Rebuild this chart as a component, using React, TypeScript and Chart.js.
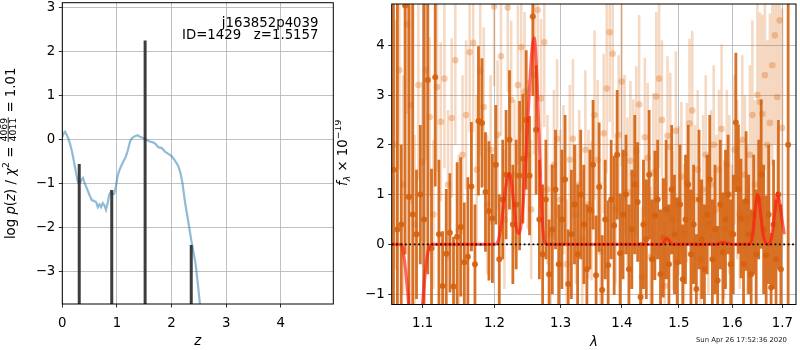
import React, { useEffect, useRef } from "react";
import { Chart, registerables } from "chart.js";

Chart.register(...registerables);

const FONT = "'DejaVu Sans', sans-serif";
const FS = 13.3;

// ---------------- left panel: log p(z) ----------------
const zGrid = [
  0.0, 0.03, 0.05, 0.08, 0.11, 0.14, 0.17, 0.2, 0.23, 0.26, 0.28, 0.3, 0.33, 0.36, 0.38, 0.4, 0.43, 0.46,
  0.5, 0.54, 0.58, 0.62, 0.65, 0.68, 0.71, 0.74, 0.77, 0.8, 0.83, 0.86, 0.89, 0.92, 0.95, 0.98, 1.01, 1.04,
  1.08, 1.12, 1.16, 1.2, 1.24, 1.28, 1.33, 1.38, 1.43, 1.48, 1.54, 1.6, 1.66, 1.7, 1.76, 1.82, 1.88, 1.94,
  2.0, 2.06, 2.12, 2.16, 2.2, 2.24, 2.28, 2.32, 2.36, 2.4, 2.44, 2.48, 2.52, 2.56,
];
const logPz = [
  0.05, 0.15, 0.17, 0.1, 0.02, -0.1, -0.24, -0.42, -0.62, -0.82, -0.95, -1.0, -0.98, -0.9, -0.88, -0.97, -1.06, -1.15,
  -1.27, -1.38, -1.4, -1.43, -1.54, -1.48, -1.54, -1.45, -1.5, -1.6, -1.45, -1.25, -1.19, -1.25, -1.24, -1.08, -0.85, -0.72,
  -0.6, -0.5, -0.4, -0.25, -0.05, 0.03, 0.07, 0.09, 0.05, 0.03, -0.01, -0.05, -0.07, -0.1, -0.18, -0.2, -0.28, -0.33,
  -0.38, -0.48, -0.6, -0.75, -1.0, -1.38, -1.68, -1.98, -2.29, -2.56, -2.83, -3.28, -3.75, -4.2,
];
const spikeZ = [0.31, 0.905, 1.5157, 2.36];
const spikeTop = [-0.56, -1.15, 2.24, -2.4];
const zTicks = [0, 1, 2, 3, 4];
const logpTicks = [-3, -2, -1, 0, 1, 2, 3];
const annotLines = ["j163852p4039", "ID=1429   z=1.5157"];

// ---------------- right panel: spectrum ----------------
const darkLam = [
  1.062, 1.067, 1.072, 1.077, 1.082, 1.087, 1.092, 1.097, 1.102, 1.107,
  1.112, 1.117, 1.122, 1.127, 1.132, 1.137, 1.142, 1.147, 1.152, 1.157,
  1.162, 1.167, 1.172, 1.177, 1.182, 1.187, 1.192, 1.197, 1.202, 1.207,
  1.212, 1.217, 1.222, 1.227, 1.232, 1.237, 1.242, 1.247, 1.252, 1.257,
  1.262, 1.267, 1.272, 1.277, 1.282, 1.287, 1.292, 1.297, 1.302, 1.307,
  1.312, 1.317, 1.322, 1.327, 1.332, 1.337, 1.342, 1.347, 1.352, 1.357,
  1.362, 1.367, 1.372, 1.377, 1.382, 1.387, 1.392, 1.397, 1.402, 1.407,
  1.412, 1.417, 1.422, 1.427, 1.432, 1.437, 1.442, 1.447, 1.452, 1.457,
  1.462, 1.467, 1.472, 1.477, 1.482, 1.487, 1.492, 1.497, 1.502, 1.507,
  1.512, 1.517, 1.522, 1.527, 1.532, 1.537, 1.542, 1.547, 1.552, 1.557,
  1.562, 1.567, 1.572, 1.577, 1.582, 1.587, 1.592, 1.597, 1.602, 1.607,
  1.612, 1.617, 1.622, 1.627, 1.632, 1.637, 1.642, 1.647, 1.652, 1.657,
  1.662, 1.667, 1.672, 1.677, 1.682, 1.687, 1.692, 1.697, 1.712,
];
const darkFlux = [
  1.5, 0.3, 0.4, 4.8, 0.95, 0.6, 0.2, 1.0, 0.5, 3.3,
  -0.08, 3.36, 0.2, -0.84, -0.19, 0.23, -0.85, 0.15, 0.35, -0.36,
  -0.25, 1.16, -0.4, 2.48, 2.44, 1.05, 0.67, 0.52, 1.6, -0.3,
  0.9, 1.4, 2.1, 0.4, 0.8, 1.38, 1.72, 2.5, 1.38, 4.58,
  2.3, 0.5, -0.2, 0.9, -0.6, 0.3, 1.1, -0.4, 0.5, 1.3,
  -0.8, 0.2, 0.8, -0.2, 1.0, 0.4, -0.5, 0.7, 1.6, -0.62,
  1.15, -0.92, 0.5, -0.42, 0.9, 0.38, 1.8, -0.18, 0.6, 1.0,
  -0.5, 0.3, 1.2, 0.85, -1.06, 0.4, 0.1, 1.4, -0.3, 0.58,
  0.9, -0.6, 0.13, 0.7, -0.4, 1.1, 0.2, -0.36, 0.8, -0.7,
  0.5, 1.2, -0.2, 0.4, -0.9, 0.9, 0.1, -0.5, 0.6, 1.3,
  -0.3, 0.3, -0.73, 0.8, -0.16, 0.5, 1.0, -0.4, 0.2, 2.45,
  1.11, 0.52, -0.4, 0.87, 0.2, -0.6, 0.6, -0.2, 0.9, 1.41,
  0.3, -0.22, 0.6, -0.87, 0.4, -0.3, 1.0, -0.5, 2.0,
];
const darkErr = [
  4.5, 5.2, 1.6, 5.0, 5.5, 4.8, 1.3, 1.4, 4.5, 3.9,
  1.6, 2.2, 1.5, 1.1, 1.3, 1.2, 1.0, 1.5, 1.4, 1.2,
  1.6, 1.3, 1.2, 1.5, 1.3, 1.2, 1.4, 1.3, 1.2, 1.3,
  1.2, 1.3, 1.4, 1.2, 1.3, 1.5, 1.3, 1.4, 1.2, 1.6,
  1.3, 1.2, 1.4, 1.2, 1.1, 1.3, 1.2, 1.2, 1.4, 1.3,
  1.1, 1.3, 1.2, 1.4, 1.3, 1.2, 1.3, 1.2, 1.3, 1.2,
  1.3, 1.1, 1.2, 1.3, 1.2, 1.4, 1.3, 1.2, 1.3, 1.2,
  1.3, 1.2, 1.4, 1.2, 1.1, 1.3, 1.2, 1.3, 1.2, 1.3,
  1.2, 1.3, 1.2, 1.4, 1.2, 1.3, 1.2, 1.3, 1.2, 1.1,
  1.3, 1.2, 1.3, 1.2, 1.1, 1.4, 1.2, 1.3, 1.2, 1.3,
  1.2, 1.3, 1.1, 1.3, 1.2, 1.4, 1.2, 1.3, 1.2, 1.4,
  1.3, 1.2, 1.3, 1.4, 1.2, 1.3, 1.2, 1.3, 1.2, 1.5,
  1.3, 1.2, 1.4, 1.1, 1.3, 1.2, 1.5, 1.3, 4.5,
];

const lightLam = [
  1.0645, 1.0695, 1.0745, 1.0795, 1.0845, 1.0895, 1.0945, 1.0995, 1.1045, 1.1095,
  1.1145, 1.1195, 1.1245, 1.1295, 1.1345, 1.1395, 1.1445, 1.1495, 1.1545, 1.1595,
  1.1645, 1.1695, 1.1745, 1.1795, 1.1845, 1.1895, 1.1945, 1.1995, 1.2045, 1.2095,
  1.2145, 1.2195, 1.2245, 1.2295, 1.2345, 1.2395, 1.2445, 1.2495, 1.2545, 1.2595,
  1.2645, 1.2695, 1.2745, 1.2795, 1.2845, 1.2895, 1.2945, 1.2995, 1.3045, 1.3095,
  1.3145, 1.3195, 1.3245, 1.3295, 1.3345, 1.3395, 1.3445, 1.3495, 1.3545, 1.3595,
  1.3645, 1.3695, 1.3745, 1.3795, 1.3845, 1.3895, 1.3945, 1.3995, 1.4045, 1.4095,
  1.4145, 1.4195, 1.4245, 1.4295, 1.4345, 1.4395, 1.4445, 1.4495, 1.4545, 1.4595,
  1.4645, 1.4695, 1.4745, 1.4795, 1.4845, 1.4895, 1.4945, 1.4995, 1.5045, 1.5095,
  1.5145, 1.5195, 1.5245, 1.5295, 1.5345, 1.5395, 1.5445, 1.5495, 1.5545, 1.5595,
  1.5645, 1.5695, 1.5745, 1.5795, 1.5845, 1.5895, 1.5945, 1.5995, 1.6045, 1.6095,
  1.6145, 1.6195, 1.6245, 1.6295, 1.6345, 1.6395, 1.6445, 1.6495, 1.6545, 1.6595,
  1.6645, 1.6695, 1.6745, 1.6795, 1.6845, 1.6895, 1.6945, 1.6995,
];
const lightFlux = [
  2.0, 3.5, 1.2, 4.42, 2.8, 0.4, 3.2, 1.66, 3.5, 2.56,
  0.6, 3.16, 2.46, 3.33, 1.2, 2.54, 3.7, 0.3, 1.8, 2.6,
  3.86, 4.05, 1.5, 3.49, 2.76, 0.8, 1.9, 4.78, 2.2, 3.78,
  0.5, 4.76, 2.9, 1.4, 3.2, 3.96, 3.07, 1.8, 0.7, 3.4,
  4.71, 2.93, 4.06, 1.1, 0.2, 1.6, 2.12, 0.9, 1.3, -0.4,
  1.7, 2.12, 0.6, 1.2, 0.1, 1.9, 0.8, 0.67, 2.6, 1.7,
  -0.15, 2.23, 3.13, 4.26, 3.83, 0.71, 2.2, 3.27, 1.81, 1.05,
  1.68, 1.41, 1.88, 2.81, -0.66, 2.15, 1.74, -0.25, 1.44, 2.97,
  3.33, 2.5, -0.84, 2.18, 1.95, 0.48, 2.28, 0.88, 1.36, 0.21,
  1.24, 2.43, 2.69, 0.9, 1.5, -0.3, 1.1, 1.8, 0.4, 1.2,
  2.0, 0.7, 1.5, 2.32, 0.3, 1.6, 1.0, 0.2, 1.9, 1.3,
  0.6, 2.1, 1.4, 0.5, 1.8, 2.6, 1.2, 3.0, 2.86, 2.62,
  3.4, 2.0, 2.44, 3.6, 4.2, 2.96, 4.5, 2.34,
];
const lightErr = [
  2.5, 2.0, 2.2, 1.8, 2.0, 1.8, 1.9, 1.6, 1.8, 1.6,
  1.5, 1.7, 1.6, 1.8, 1.5, 1.6, 1.7, 1.5, 1.6, 1.5,
  1.6, 1.8, 1.5, 1.7, 1.6, 1.4, 1.5, 1.6, 1.5, 1.6,
  1.4, 1.7, 1.6, 1.5, 1.6, 1.7, 1.6, 1.5, 1.4, 1.6,
  1.8, 1.6, 1.7, 1.5, 1.4, 1.5, 1.6, 1.4, 1.5, 1.3,
  1.5, 1.6, 1.4, 1.5, 1.4, 1.6, 1.5, 1.4, 1.7, 1.6,
  1.4, 1.6, 1.7, 1.8, 1.7, 1.5, 1.6, 1.7, 1.6, 1.5,
  1.6, 1.5, 1.7, 1.8, 1.4, 1.6, 1.5, 1.4, 1.6, 1.7,
  1.8, 1.6, 1.3, 1.6, 1.5, 1.4, 1.6, 1.5, 1.5, 1.4,
  1.6, 1.7, 1.6, 1.5, 1.6, 1.4, 1.5, 1.6, 1.4, 1.5,
  1.6, 1.5, 1.6, 1.7, 1.4, 1.5, 1.6, 1.4, 1.5, 1.6,
  1.5, 1.7, 1.6, 1.5, 1.8, 1.9, 1.7, 1.9, 1.8, 2.0,
  1.9, 2.1, 2.2, 2.0, 2.2, 2.3, 2.0, 2.4,
];

const modelLam = [
  1.06, 1.072, 1.076, 1.08, 1.084, 1.09, 1.096, 1.1, 1.104, 1.108, 1.112,
  1.2, 1.205, 1.21, 1.216, 1.222, 1.227, 1.232, 1.236, 1.241, 1.246, 1.251, 1.256, 1.259, 1.263, 1.267, 1.271, 1.275, 1.28,
  1.47, 1.475, 1.479, 1.483, 1.487, 1.57, 1.58, 1.59, 1.6,
  1.635, 1.64, 1.645, 1.65, 1.655, 1.66, 1.665, 1.672, 1.678, 1.684, 1.69, 1.695, 1.7, 1.704,
];
const modelFlux = [
  0, 0, -0.3, -0.9, -1.6, -2.3, -1.8, -1.2, -0.5, -0.1, 0,
  0, 0.05, 0.4, 1.1, 1.42, 1.0, 0.35, 0.22, 0.6, 1.6, 2.9, 3.95, 4.15, 3.4, 2.0, 0.6, 0.05, 0,
  0, 0.08, 0.12, 0.06, 0, 0, 0.04, 0.02, 0,
  0, 0.2, 0.7, 1.0, 0.7, 0.25, 0.05, 0, 0.15, 0.6, 1.03, 0.8, 0.45, 0.2,
];
const lamTicks = [1.1, 1.2, 1.3, 1.4, 1.5, 1.6, 1.7];
const fluxTicks = [-1, 0, 1, 2, 3, 4];
const timestamp = "Sun Apr 26 17:52:36 2020";

// ---------------- helpers ----------------
type Seg = { t?: string; italic?: boolean; scale?: number; rise?: number; frac?: [string, string] };

const leftTitle: Seg[] = [
  { t: "log " },
  { t: "p", italic: true },
  { t: "(" },
  { t: "z", italic: true },
  { t: ") / " },
  { t: "χ", italic: true },
  { t: "2", scale: 0.7, rise: 0.45 },
  { t: " = " },
  { frac: ["4069", "4011"], scale: 0.7 },
  { t: " = 1.01" },
];
const rightTitle: Seg[] = [
  { t: "f", italic: true },
  { t: "λ", italic: true, scale: 0.7, rise: -0.2 },
  { t: " × 10" },
  { t: "\u221219", scale: 0.7, rise: 0.45 },
];

function drawRich(ctx: CanvasRenderingContext2D, segs: Seg[], bx: number, cy: number, angle: number, size: number) {
  ctx.save();
  ctx.translate(bx, cy);
  ctx.rotate(angle);
  ctx.fillStyle = "#000";
  ctx.strokeStyle = "#000";
  ctx.textBaseline = "alphabetic";
  ctx.textAlign = "left";
  const fontOf = (s: Seg) => `${s.italic ? "italic " : ""}${(size * (s.scale ?? 1)).toFixed(2)}px ${FONT}`;
  const widths = segs.map((s) => {
    ctx.font = fontOf(s);
    if (s.frac) return Math.max(ctx.measureText(s.frac[0]).width, ctx.measureText(s.frac[1]).width) + 2;
    return ctx.measureText(s.t ?? "").width;
  });
  const total = widths.reduce((a, b) => a + b, 0);
  let x = -total / 2;
  segs.forEach((s, i) => {
    ctx.font = fontOf(s);
    const w = widths[i];
    if (s.frac) {
      const [n, d] = s.frac;
      const wn = ctx.measureText(n).width;
      const wd = ctx.measureText(d).width;
      ctx.fillText(n, x + (w - wn) / 2, -size * 0.62);
      ctx.fillText(d, x + (w - wd) / 2, size * 0.02);
      ctx.lineWidth = 0.8;
      ctx.beginPath();
      ctx.moveTo(x + 0.5, -size * 0.53);
      ctx.lineTo(x + w - 0.5, -size * 0.53);
      ctx.stroke();
    } else {
      ctx.fillText(s.t ?? "", x, -(s.rise ?? 0) * size);
    }
    x += w;
  });
  ctx.restore();
}

const fmtInt = (v: number) => String(Math.round(v)).replace("-", "\u2212");

function errSegments(lam: number[], f: number[], e: number[]) {
  const out: { x: number; y: number | null }[] = [];
  for (let i = 0; i < lam.length; i++) {
    out.push({ x: lam[i], y: f[i] - e[i] }, { x: lam[i], y: f[i] + e[i] }, { x: lam[i], y: null });
  }
  return out;
}
const pts = (xs: number[], ys: number[]) => xs.map((x, i) => ({ x, y: ys[i] }));

const framePlugin = {
  id: "frame",
  afterDatasetsDraw(chart: any) {
    const { ctx, chartArea: a } = chart;
    ctx.save();
    ctx.strokeStyle = "#000";
    ctx.lineWidth = 1;
    ctx.strokeRect(a.left, a.top, a.right - a.left, a.bottom - a.top);
    ctx.restore();
  },
};

const gridOpts = { color: "#b0b0b0", lineWidth: 0.8, tickLength: 3.5, tickColor: "#000", tickWidth: 0.8 };
const tickFont = { family: FONT, size: FS };

function xScale(extra: any, height: number) {
  return {
    ...extra,
    grid: gridOpts,
    border: { display: false },
    afterFit: (s: any) => {
      s.height = height;
      s.paddingLeft = 0;
      s.paddingRight = 0;
    },
    ticks: { font: tickFont, color: "#000", padding: 8, maxRotation: 0, autoSkip: false, ...(extra.ticks || {}) },
  };
}
function yScale(extra: any, width: number) {
  return {
    ...extra,
    grid: gridOpts,
    border: { display: false },
    afterFit: (s: any) => {
      s.width = width;
      s.paddingTop = 0;
      s.paddingBottom = 0;
    },
    ticks: { font: tickFont, color: "#000", padding: 3.5, autoSkip: false, ...(extra.ticks || {}) },
  };
}

export default function App() {
  const refA = useRef<HTMLCanvasElement>(null);
  const refB = useRef<HTMLCanvasElement>(null);

  useEffect(() => {
    const spikeData: { x: number; y: number | null }[] = [];
    spikeZ.forEach((z, i) => spikeData.push({ x: z, y: -5 }, { x: z, y: spikeTop[i] }, { x: z, y: null }));

    const textA = {
      id: "textA",
      afterDraw(chart: any) {
        const ctx = chart.ctx as CanvasRenderingContext2D;
        const a = chart.chartArea;
        drawRich(ctx, leftTitle, 15.3, (a.top + a.bottom) / 2, -Math.PI / 2, FS);
        ctx.save();
        ctx.fillStyle = "#000";
        ctx.textBaseline = "alphabetic";
        ctx.font = `italic ${FS}px ${FONT}`;
        ctx.textAlign = "center";
        ctx.fillText("z", (a.left + a.right) / 2, 345);
        ctx.font = `${FS}px ${FONT}`;
        ctx.textAlign = "right";
        ctx.fillText(annotLines[0], 318.5, 26.5);
        ctx.fillText(annotLines[1], 318.5, 39.3);
        ctx.restore();
      },
    };

    const chartA = new Chart(refA.current!, {
      type: "line",
      data: {
        datasets: [
          {
            data: spikeData as any,
            borderColor: "rgba(40,40,40,0.9)",
            borderWidth: 3,
            borderCapStyle: "butt",
            pointRadius: 0,
            spanGaps: false,
            clip: 0 as any,
          },
          {
            data: pts(zGrid, logPz) as any,
            borderColor: "rgba(31,119,180,0.5)",
            borderWidth: 2.2,
            pointRadius: 0,
            tension: 0,
            clip: 0 as any,
          },
        ],
      },
      options: {
        responsive: false,
        animation: false,
        devicePixelRatio: 1,
        layout: { padding: { left: 0, top: 2.7, right: 1.7, bottom: 0 } },
        plugins: { legend: { display: false }, tooltip: { enabled: false } },
        scales: {
          x: xScale(
            {
              type: "linear",
              min: 0,
              max: 4.96,
              afterBuildTicks: (s: any) => {
                s.ticks = zTicks.map((v) => ({ value: v }));
              },
              ticks: { callback: (v: any) => fmtInt(Number(v)) },
            },
            46
          ),
          y: yScale(
            {
              type: "linear",
              min: -3.74,
              max: 3.1,
              afterBuildTicks: (s: any) => {
                s.ticks = logpTicks.map((v) => ({ value: v }));
              },
              ticks: { callback: (v: any) => fmtInt(Number(v)) },
            },
            62.3
          ),
        },
      } as any,
      plugins: [framePlugin, textA],
    });

    const textB = {
      id: "textB",
      afterDraw(chart: any) {
        const ctx = chart.ctx as CanvasRenderingContext2D;
        const a = chart.chartArea;
        drawRich(ctx, rightTitle, 12.3, (a.top + a.bottom) / 2 - 1.5, -Math.PI / 2, FS);
        ctx.save();
        ctx.fillStyle = "#000";
        ctx.textBaseline = "alphabetic";
        ctx.font = `italic ${FS}px ${FONT}`;
        ctx.textAlign = "center";
        ctx.fillText("λ", (a.left + a.right) / 2, 346);
        ctx.font = `6.9px ${FONT}`;
        ctx.textAlign = "right";
        ctx.fillStyle = "#222";
        ctx.fillText(timestamp, 452, 341.8);
        ctx.restore();
      },
    };

    const dark = "rgba(212,98,14,0.9)";
    const light = "rgba(217,95,2,0.24)";
    const lightPt = "rgba(217,95,2,0.3)";

    const chartB = new Chart(refB.current!, {
      type: "line",
      data: {
        datasets: [
          {
            data: [
              { x: 1.0597, y: 0 },
              { x: 1.7283, y: 0 },
            ],
            borderColor: "#000",
            borderWidth: 1.8,
            borderDash: [1.8, 2.6],
            pointRadius: 0,
            clip: 0 as any,
          },
          {
            data: pts(modelLam, modelFlux) as any,
            borderColor: "rgba(255,25,15,0.65)",
            borderWidth: 3.2,
            pointRadius: 0,
            cubicInterpolationMode: "monotone",
            clip: 0 as any,
          },
          {
            data: pts(darkLam, darkFlux) as any,
            showLine: false,
            pointRadius: 3,
            pointBorderWidth: 0,
            pointBackgroundColor: dark,
            clip: 0 as any,
          },
          {
            data: errSegments(darkLam, darkFlux, darkErr) as any,
            borderColor: dark,
            borderWidth: 2.8,
            borderCapStyle: "butt",
            pointRadius: 0,
            spanGaps: false,
            clip: 0 as any,
          },
          {
            data: pts(lightLam, lightFlux) as any,
            showLine: false,
            pointRadius: 3.3,
            pointBorderWidth: 0,
            pointBackgroundColor: lightPt,
            clip: 0 as any,
          },
          {
            data: errSegments(lightLam, lightFlux, lightErr) as any,
            borderColor: light,
            borderWidth: 2.6,
            borderCapStyle: "butt",
            pointRadius: 0,
            spanGaps: false,
            segment: {},
            clip: 0 as any,
          },
        ],
      },
      options: {
        responsive: false,
        animation: false,
        devicePixelRatio: 1,
        layout: { padding: { left: 0, top: 2.5, right: 2, bottom: 0 } },
        plugins: { legend: { display: false }, tooltip: { enabled: false } },
        scales: {
          x: xScale(
            {
              type: "logarithmic",
              min: 1.0597,
              max: 1.7283,
              afterBuildTicks: (s: any) => {
                s.ticks = lamTicks.map((v) => ({ value: v }));
              },
              ticks: { callback: (v: any) => Number(v).toFixed(1) },
            },
            45.5
          ),
          y: yScale(
            {
              type: "linear",
              min: -1.21,
              max: 4.83,
              afterBuildTicks: (s: any) => {
                s.ticks = fluxTicks.map((v) => ({ value: v }));
              },
              ticks: { callback: (v: any) => fmtInt(Number(v)) },
            },
            56.7
          ),
        },
      } as any,
      plugins: [framePlugin, textB],
    });

    return () => {
      chartA.destroy();
      chartB.destroy();
    };
  }, []);

  return (
    <div style={{ position: "fixed", left: 0, top: 0, width: 800, height: 350, background: "#fff" }}>
      <canvas
        ref={refA}
        width={335}
        height={350}
        style={{ position: "absolute", left: 0, top: 0, width: 335, height: 350 }}
      />
      <canvas
        ref={refB}
        width={465}
        height={350}
        style={{ position: "absolute", left: 335, top: 0, width: 465, height: 350 }}
      />
    </div>
  );
}
